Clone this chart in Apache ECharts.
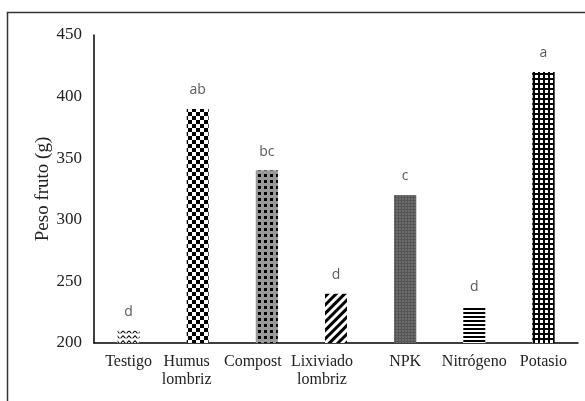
<!DOCTYPE html>
<html>
<head>
<meta charset="utf-8">
<script src="https://cdn.jsdelivr.net/npm/echarts@6/dist/echarts.min.js"></script>
<style>
  html, body { margin: 0; padding: 0; background: #fff; }
  #chart { width: 585px; height: 401px; }
</style>
</head>
<body>
<div id="chart"></div>
<script>
const categories = ["Testigo", "Humus\nlombriz", "Compost", "Lixiviado\nlombriz", "NPK", "Nitrógeno", "Potasio"];
const pesoFruto = [210, 390, 340, 240, 320, 230, 420];
const letras = ["d", "ab", "bc", "d", "c", "d", "a"];
const yTicks = { min: 200, max: 450, interval: 50 };

// one fill pattern per treatment, like the printed figure
const patterns = [
  { color: "#fff", decal: { symbol: "path://M0,3 L3,0 L6,3 L6,5 L3,2 L0,5 Z", symbolSize: 1, color: "#000", backgroundColor: "#fff", dashArrayX: [6, 0], dashArrayY: [3.5, 0.8] } },
  { color: "#fff", decal: { symbol: "rect", symbolSize: 1, color: "#000", backgroundColor: "#fff", dashArrayX: [[3.7, 3.7], [0, 3.7, 3.7, 0]], dashArrayY: [3.7, 0] } },
  { color: "#999", decal: { symbol: "rect", symbolSize: 1, color: "#000", backgroundColor: "#999", dashArrayX: [3, 2.5], dashArrayY: [3, 3] } },
  { color: "#fff", decal: { symbol: "rect", symbolSize: 1, color: "#000", backgroundColor: "#fff", dashArrayX: [1, 0], dashArrayY: [2.5, 3], rotation: -Math.PI / 4 } },
  { color: "#555", decal: { symbol: "circle", symbolSize: 0.7, color: "#999", backgroundColor: "#555", dashArrayX: [2, 1], dashArrayY: [2, 1] } },
  { color: "#fff", decal: { symbol: "rect", symbolSize: 1, color: "#000", backgroundColor: "#fff", dashArrayX: [1, 0], dashArrayY: [2, 1.7] } },
  { color: "#000", decal: { symbol: "rect", symbolSize: 1, color: "#fff", backgroundColor: "#000", dashArrayX: [2.3, 1.2], dashArrayY: [2.3, 1.2] } }
];

const labelShift = [0, 22, 28, 28, 0, 0, 0];

const chart = echarts.init(document.getElementById("chart"));
chart.setOption({
  animation: false,
  backgroundColor: "#fff",
  graphic: [{
    type: "rect",
    shape: { x: 7.5, y: 12.5, width: 620, height: 420 },
    style: { fill: "none", stroke: "#333", lineWidth: 1.5 },
    silent: true
  }],
  grid: { left: 94, right: 7, top: 35, bottom: 58 },
  xAxis: {
    type: "category",
    data: categories.map((c, i) => ({
      value: c,
      textStyle: labelShift[i] ? { padding: [0, labelShift[i], 0, 0] } : {}
    })),
    axisLine: { lineStyle: { color: "#000", width: 1.5 } },
    axisTick: { show: false },
    axisLabel: {
      color: "#222",
      fontFamily: "Liberation Serif",
      fontSize: 16,
      lineHeight: 18,
      margin: 10,
      interval: 0
    }
  },
  yAxis: {
    type: "value",
    min: yTicks.min,
    max: yTicks.max,
    interval: yTicks.interval,
    name: "Peso fruto (g)",
    nameLocation: "middle",
    nameGap: 41,
    nameMoveOverlap: false,
    nameTextStyle: { color: "#222", fontFamily: "Liberation Serif", fontSize: 19 },
    axisLine: { show: true, lineStyle: { color: "#000", width: 1.5 } },
    axisTick: { show: false },
    splitLine: { show: false },
    axisLabel: { color: "#222", fontFamily: "Liberation Serif", fontSize: 17, margin: 12 }
  },
  series: [{
    type: "bar",
    barWidth: 22,
    data: pesoFruto.map((v, i) => ({ value: v, itemStyle: patterns[i] })),
    label: {
      show: true,
      position: "top",
      distance: 12,
      color: "#595959",
      fontFamily: "Open Sans",
      fontSize: 14,
      formatter: (p) => letras[p.dataIndex]
    }
  }]
});
</script>
</body>
</html>
